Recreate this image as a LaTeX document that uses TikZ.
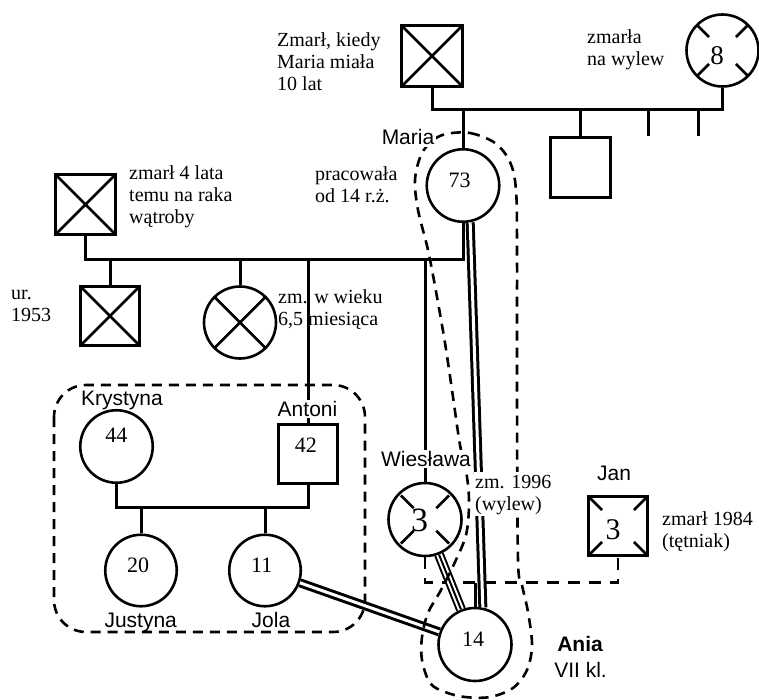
\documentclass[tikz,border=0pt]{standalone}
\usepackage{fontspec}
\setmainfont{Liberation Serif}
\setsansfont{Liberation Sans}
\newcommand\myxsq[2]{\draw[mk] ([shift={(-#2,-#2)}]#1.center) -- ([shift={(#2,#2)}]#1.center) ([shift={(-#2,#2)}]#1.center) -- ([shift={(#2,-#2)}]#1.center);}
\newcommand\myticks[3]{\foreach \a in {45,135,225,315}{\draw[mk] ([shift={(\a:#2)}]#1.center) -- ([shift={(\a:#3)}]#1.center);}}
\begin{document}
\begin{tikzpicture}[x=1pt,y=-1pt,
 ln/.style={line width=3pt},
 circ/.style={circle,draw,line width=2.6pt,fill=white,inner sep=0pt},
 sq/.style={rectangle,draw,line width=3pt,fill=white,inner sep=0pt},
 mk/.style={line width=2.6pt},
 num/.style={font=\fontsize{22}{24}\selectfont,inner sep=0pt,anchor=center},
 note/.style={font=\fontsize{20}{22}\selectfont,align=left,inner sep=0pt,anchor=north west},
 lab/.style={font=\sffamily\fontsize{21}{24}\selectfont,inner sep=1.5pt,anchor=base},
 wlab/.style={lab,fill=white},
 dbox/.style={line width=2.6pt,dash pattern=on 10pt off 7pt},
 dbar/.style={line width=2.6pt,dash pattern=on 12pt off 9pt},
 dbl/.style={line width=3pt,double,double distance=3pt},
 trip/.style={line width=2pt,double,double distance=6pt},
]
\useasboundingbox (0,0) rectangle (759,700);
% shapes
\node[sq,minimum size=61pt] (gf) at (432,56) {};
\node[circ,minimum size=72pt] (gm) at (722.5,50.5) {};
\node[circ,minimum size=72.5pt] (maria) at (463,185.5) {};
\node[sq,minimum size=60pt] (unc) at (580.5,167.5) {};
\node[sq,minimum size=60pt] (lgf) at (85.5,204.5) {};
\node[sq,minimum size=59pt] (b53) at (110,316) {};
\node[circ,minimum size=72pt] (inf) at (240,322.5) {};
\node[circ,minimum size=72.5pt] (kry) at (116.5,446.5) {};
\node[sq,minimum size=59pt] (ant) at (308,453.5) {};
\node[circ,minimum size=71.5pt] (jus) at (141,570.5) {};
\node[circ,minimum size=71.5pt] (jol) at (265,570.5) {};
\node[circ,minimum size=73pt] (wie) at (425,519.5) {};
\node[sq,minimum size=59pt] (jan) at (618,526) {};
\node[circ,minimum size=73pt] (ania) at (475,644.5) {};
% marks
\myxsq{gf}{30.5}
\myxsq{lgf}{30}
\myxsq{b53}{29.5}
\draw[mk] (inf.45) -- (inf.225) (inf.135) -- (inf.315);
\myticks{gm}{19}{35}
\myticks{wie}{16}{34}
\myticks{jan}{22.5}{41}
% numbers
\node[num] (n73) at (459.5,180) {73};
\node[num,font=\fontsize{27}{29}\selectfont] (n8) at (717,55.5) {8};
\node[num,font=\fontsize{34}{36}\selectfont] (nw3) at (419.5,520) {3};
\node[num,font=\fontsize{30}{32}\selectfont] (nj3) at (613,530) {3};
\node[num] (n14) at (473,639) {14};
\node[num] (n44) at (116.3,435.5) {44};
\node[num] (n42) at (305.8,445.5) {42};
\node[num] (n20) at (138,565.5) {20};
\node[num] (n11) at (261.7,565.5) {11};
% connectors
\coordinate (tb) at (0,110);
\coordinate (lb) at (0,260);
\coordinate (mb) at (0,507);
\coordinate (db) at (0,582.5);
\coordinate (k1) at (648,136);
\coordinate (k2) at (698,136);
\draw[ln] (gf.south) -- (gf.south |- tb) -- (gm.south |- tb) -- (gm.south);
\draw[ln] (maria.north) -- (maria.north |- tb);
\draw[ln] (unc.north) -- (unc.north |- tb);
\draw[ln] (k1) -- (k1 |- tb);
\draw[ln] (k2) -- (k2 |- tb);
\draw[ln] (lgf.south) -- (lgf.south |- lb) -- (maria.south |- lb) -- (maria.south);
\draw[ln] (b53.north) -- (b53.north |- lb);
\draw[ln] (inf.north) -- (inf.north |- lb);
\draw[ln] (ant.north) -- (ant.north |- lb);
\draw[ln] (wie.north) -- (wie.north |- lb);
\draw[ln] (kry.south) -- (kry.south |- mb) -- (ant.south |- mb) -- (ant.south);
\draw[ln] (jus.north) -- (jus.north |- mb);
\draw[ln] (jol.north) -- (jol.north |- mb);
\draw[dbar] (wie.south) -- (wie.south |- db) -- (jan.south |- db) -- (jan.south);
\draw[ln] (ania.north) -- (ania.north |- db);
% relationship lines
\draw[dbl] (maria.-79) -- (ania.78);
\draw[trip] (wie) -- (ania);
\draw[line width=2pt] (wie) -- (ania);
\draw[dbl] (jol) -- (ania);
% outlines
\draw[dbox,rounded corners=32pt] (54,385) rectangle (365,632);
\draw[dbox] plot[smooth cycle,tension=0.55] coordinates {(446,134) (470,133) (495,143) (510,162) (516,190) (517,250) (517,400) (518,560) (522,585) (528,612) (532,645) (527,670) (513,688) (490,697) (465,697) (445,692) (430,683) (422,660) (422,637) (428,613) (441,590) (455,562) (466,535) (469,505) (467,477) (460,445) (452,390) (445,343) (437,297) (428,250) (418,210) (415,180) (421,155) (432,141)};
% notes
\node[note] (ta) at (277,30.6) {\strut Zmarł, kiedy\\Maria miała\\10 lat};
\node[note] (tb2) at (587,28) {\strut zmarła\\na wylew};
\node[note] (tc) at (315,164.6) {\strut pracowała\\od 14 r.ż.};
\node[note] (td) at (129,164) {\strut zmarł 4 lata\\temu na raka\\wątroby};
\node[note] (te) at (11,283.6) {\strut ur.\\1953};
\node[note] (tf) at (278,288) {\strut zm. w wieku\\6,5 miesiąca};
\node[note,fill=white,inner sep=1pt] (tg) at (474,471.6) {\strut zm. 1996\\(wylew)};
\node[note] (th) at (662,509.6) {\strut zmarł 1984\\(tętniak)};
% name labels
\node[wlab] (lmaria) at (408,145) {Maria};
\node[lab] (lkry) at (122,405) {Krystyna};
\node[wlab] (lant) at (307.5,416.7) {Antoni};
\node[lab] (ljus) at (140.7,627.3) {Justyna};
\node[lab] (ljol) at (271,627.3) {Jola};
\node[wlab] (lwie) at (426,466.7) {Wiesława};
\node[lab] (ljan) at (614,480) {Jan};
\node[lab,font=\sffamily\bfseries\fontsize{21}{24}\selectfont] (lania) at (580,651.7) {Ania};
\node[lab] (lvii) at (580.5,677.3) {VII kl.};
\end{tikzpicture}
\end{document}
